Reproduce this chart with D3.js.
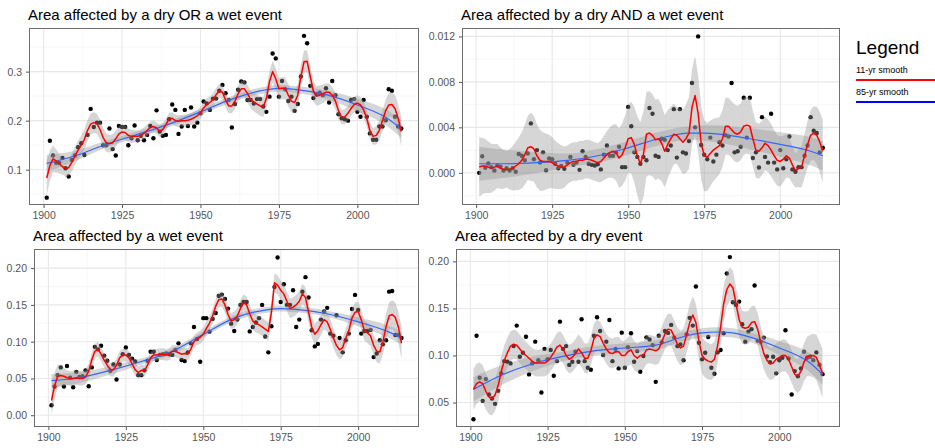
<!DOCTYPE html>
<html><head><meta charset="utf-8">
<script src="https://cdn.jsdelivr.net/npm/d3@7"></script>
<style>body{margin:0;background:#fff} svg{display:block} text{font-family:"Liberation Sans",Arial,sans-serif}</style>
</head><body><svg id="c" width="935" height="448"></svg>
<script>
// ---------------- DATA ----------------
const years = d3.range(1901, 2015);
const xTicks = [1900, 1925, 1950, 1975, 2000];

// Panel 1: dry OR wet
const orPoints = [0.043,0.159,0.129,0.114,0.114,0.124,0.103,0.086,0.12,0.129,
0.146,0.154,0.13,0.171,0.224,0.187,0.196,0.196,0.15,0.15,
0.184,0.142,0.129,0.189,0.187,0.187,0.15,0.164,0.19,0.16,
0.169,0.16,0.171,0.189,0.164,0.221,0.178,0.169,0.171,0.203,
0.233,0.222,0.173,0.188,0.222,0.189,0.227,0.188,0.196,0.215,
0.239,0.235,0.222,0.245,0.245,0.261,0.273,0.256,0.242,0.186,
0.234,0.263,0.28,0.278,0.242,0.242,0.235,0.244,0.244,0.229,
0.218,0.249,0.337,0.327,0.249,0.281,0.264,0.24,0.249,0.22,
0.234,0.29,0.373,0.358,0.271,0.246,0.254,0.257,0.252,0.266,
0.237,0.281,0.252,0.213,0.205,0.203,0.2,0.242,0.244,0.218,
0.208,0.242,0.208,0.174,0.161,0.161,0.188,0.188,0.201,0.264,
0.261,0.208,0.188,0.184];
const orRed = [0.083,0.108,0.122,0.118,0.112,0.106,0.103,0.104,0.115,0.128,
0.14,0.15,0.162,0.18,0.193,0.196,0.194,0.182,0.165,0.155,
0.153,0.155,0.163,0.173,0.177,0.176,0.17,0.168,0.168,0.168,
0.17,0.174,0.18,0.186,0.188,0.185,0.178,0.182,0.192,0.204,
0.205,0.2,0.199,0.2,0.2,0.201,0.203,0.206,0.21,0.216,
0.226,0.233,0.237,0.243,0.253,0.261,0.258,0.242,0.23,0.23,
0.24,0.255,0.265,0.265,0.255,0.243,0.238,0.234,0.23,0.228,
0.245,0.28,0.3,0.285,0.265,0.266,0.266,0.252,0.24,0.237,
0.252,0.29,0.32,0.321,0.29,0.26,0.25,0.252,0.255,0.258,
0.258,0.252,0.24,0.22,0.207,0.208,0.215,0.225,0.233,0.236,
0.232,0.222,0.205,0.18,0.168,0.17,0.18,0.2,0.22,0.232,
0.233,0.225,0.205,0.178];
const orRedSeYears = [1901,1906,1915,1930,1950,1960,1973,1983,1995,2005,2014];
const orRedSe = [0.035,0.016,0.022,0.012,0.012,0.015,0.022,0.023,0.015,0.017,0.03];
const orBlueYears = [1901,1910,1920,1930,1940,1950,1960,1970,1975,1980,1990,2000,2010,2014];
const orBlue = [0.113,0.128,0.152,0.172,0.193,0.218,0.244,0.262,0.266,0.264,0.253,0.232,0.203,0.183];
const orBlueSeYears = [1901,1915,1950,1985,2014];
const orBlueSe = [0.017,0.007,0.006,0.007,0.018];

// Panel 2: dry AND wet
const andPoints = [0.0,0.00146,0.00044,0.00082,0.0005,0.0002,0.00064,0.00055,0.0002,0.0004,
0.0002,0.0004,0.0001,0.00166,0.0015,0.0011,0.0017,0.00435,0.0012,0.002,
0.0009,0.0018,0.00023,0.00126,0.0012,0.0008,0.0004,0.0006,0.00035,0.0009,
0.0014,0.0007,0.0009,0.00026,0.0019,0.0014,0.0008,0.0007,0.00064,0.00076,
0.0003,0.0016,0.0024,0.0015,0.0015,0.0018,0.0023,0.0005,0.0005,0.0058,
0.0041,0.0018,0.0014,0.0008,0.0014,0.0011,0.0057,0.0052,0.0015,0.0014,
0.003,0.0029,0.002,0.0024,0.0056,0.00134,0.0056,0.0018,0.0017,0.0028,
0.0079,0.004,0.012,0.00245,0.0016,0.0012,0.0031,0.001,0.0016,0.0027,
0.0024,0.0033,0.0032,0.0079,0.0018,0.0019,0.0023,0.0066,0.0031,0.0066,
0.0013,0.0018,0.00047,0.0049,0.0014,0.0009,0.0052,0.0009,0.0003,0.002,
0.0004,0.0012,0.0032,0.0003,0.0001,0.0005,0.0005,0.0015,0.0024,0.0049,
0.0037,0.0035,0.0018,0.0022];
const andRed = [0.0005,0.0006,0.0006,0.0005,0.0004,0.0005,0.0006,0.0004,0.0003,0.0003,
0.0003,0.0004,0.0006,0.0008,0.0011,0.0016,0.0022,0.0023,0.0021,0.0015,
0.0011,0.001,0.001,0.001,0.0009,0.0007,0.0006,0.0005,0.0005,0.0007,
0.0009,0.001,0.001,0.0011,0.0011,0.0012,0.0012,0.0011,0.001,0.0009,
0.001,0.0013,0.0016,0.0018,0.0019,0.0018,0.0013,0.0016,0.0022,0.003,
0.0031,0.0025,0.0015,0.0008,0.0016,0.0034,0.0035,0.0033,0.0029,0.003,
0.0026,0.0019,0.0025,0.003,0.0034,0.0033,0.003,0.0027,0.003,0.0035,
0.0058,0.0068,0.0052,0.0026,0.0015,0.0014,0.0017,0.002,0.0022,0.0024,
0.003,0.0041,0.0041,0.0038,0.0035,0.0034,0.0036,0.0041,0.0042,0.0041,
0.003,0.002,0.0019,0.0022,0.0026,0.0024,0.002,0.0015,0.0011,0.001,
0.0012,0.0015,0.0013,0.0007,0.0002,0.0004,0.0005,0.0015,0.0025,0.0033,
0.0035,0.0033,0.0027,0.0019];
const andRedSeYears = [1901,1910,1918,1930,1940,1950,1955,1960,1966,1972,1980,1990,2000,2005,2014];
const andRedSe = [0.0026,0.0016,0.003,0.0017,0.0017,0.003,0.0038,0.0035,0.0025,0.0035,0.0025,0.0025,0.0022,0.0015,0.0028];
const andBlueYears = [1901,1910,1920,1930,1940,1950,1960,1970,1975,1980,1990,2000,2010,2014];
const andBlue = [0.0008,0.0008,0.0009,0.0011,0.0015,0.0022,0.003,0.0035,0.0035,0.0034,0.003,0.0025,0.0019,0.0015];
const andBlueSeYears = [1901,1930,1970,2014];
const andBlueSe = [0.0015,0.0006,0.0006,0.0013];

// Panel 3: wet
const wetPoints = [0.0136,0.039,0.0545,0.065,0.039,0.067,0.051,0.038,0.059,0.052,
0.053,0.061,0.0395,0.065,0.093,0.0895,0.0945,0.081,0.074,0.0605,
0.069,0.0486,0.069,0.083,0.092,0.082,0.077,0.073,0.0545,0.0545,
0.061,0.074,0.0864,0.0864,0.075,0.082,0.083,0.084,0.083,0.082,
0.0886,0.0977,0.075,0.0736,0.0855,0.0977,0.12,0.1036,0.0727,0.132,
0.132,0.1136,0.131,0.139,0.162,0.164,0.158,0.145,0.1245,0.1145,
0.13,0.15,0.154,0.154,0.114,0.12,0.126,0.132,0.15,0.107,
0.0855,0.121,0.1745,0.2145,0.154,0.178,0.15,0.15,0.17,0.12,
0.13,0.168,0.1877,0.16,0.1155,0.0936,0.097,0.13,0.141,0.146,
0.111,0.108,0.136,0.105,0.0855,0.102,0.111,0.1445,0.1636,0.143,
0.111,0.1145,0.1145,0.116,0.079,0.084,0.102,0.0964,0.102,0.168,
0.169,0.109,0.109,0.105];
const wetRed = [0.02,0.04,0.053,0.054,0.053,0.051,0.05,0.05,0.051,0.05,
0.05,0.052,0.06,0.075,0.087,0.09,0.083,0.075,0.068,0.062,
0.062,0.068,0.078,0.082,0.082,0.078,0.07,0.062,0.058,0.061,
0.06,0.068,0.078,0.082,0.082,0.083,0.083,0.082,0.083,0.087,
0.087,0.085,0.083,0.084,0.083,0.09,0.1,0.104,0.106,0.11,
0.118,0.125,0.135,0.148,0.157,0.158,0.15,0.137,0.128,0.13,
0.135,0.145,0.153,0.15,0.138,0.128,0.125,0.123,0.12,0.117,
0.114,0.14,0.18,0.177,0.17,0.165,0.155,0.145,0.147,0.15,
0.155,0.165,0.16,0.14,0.12,0.11,0.115,0.123,0.13,0.127,
0.117,0.105,0.095,0.089,0.092,0.105,0.115,0.132,0.14,0.141,
0.13,0.115,0.112,0.108,0.095,0.087,0.086,0.1,0.12,0.135,
0.137,0.133,0.12,0.098];
const wetRedSeYears = [1901,1906,1915,1930,1945,1955,1965,1975,1985,1995,2005,2014];
const wetRedSe = [0.02,0.01,0.01,0.008,0.008,0.01,0.012,0.013,0.014,0.013,0.014,0.022];
const wetBlueYears = [1901,1910,1920,1930,1940,1950,1960,1970,1975,1980,1990,2000,2010,2014];
const wetBlue = [0.047,0.051,0.061,0.073,0.087,0.11,0.132,0.143,0.145,0.144,0.138,0.127,0.113,0.105];
const wetBlueSeYears = [1901,1930,1960,1990,2014];
const wetBlueSe = [0.009,0.004,0.004,0.004,0.009];

// Panel 4: dry
const dryPoints = [0.0322,0.121,0.0763,0.0518,0.0749,0.0585,0.0543,0.0486,0.0624,0.081,
0.094,0.0934,0.0916,0.11,0.1318,0.0987,0.103,0.12,0.0799,0.0916,
0.1147,0.095,0.0607,0.107,0.096,0.1058,0.0784,0.094,0.136,0.107,
0.11,0.09,0.0934,0.104,0.0934,0.1385,0.094,0.087,0.0848,0.121,
0.1407,0.126,0.1005,0.1147,0.1378,0.094,0.107,0.0863,0.1243,0.087,
0.1087,0.1236,0.0934,0.1047,0.0827,0.0994,0.1193,0.117,0.111,0.072,
0.121,0.114,0.126,0.124,0.1325,0.119,0.11,0.1118,0.095,0.1225,
0.14,0.1318,0.1733,0.1136,0.0959,0.103,0.1197,0.087,0.0806,0.1033,
0.1058,0.1236,0.1872,0.2046,0.1566,0.1538,0.1573,0.1332,0.1147,0.1254,
0.128,0.1744,0.1158,0.1147,0.119,0.099,0.093,0.0987,0.081,0.095,
0.0976,0.1268,0.0969,0.0585,0.0834,0.078,0.0863,0.104,0.0976,0.0987,
0.095,0.1033,0.09,0.0802];
const dryRed = [0.064,0.07,0.072,0.07,0.062,0.056,0.054,0.058,0.068,0.083,
0.095,0.103,0.11,0.112,0.111,0.107,0.103,0.1,0.097,0.094,
0.092,0.092,0.092,0.092,0.094,0.098,0.103,0.109,0.111,0.107,
0.1,0.096,0.098,0.102,0.107,0.103,0.097,0.097,0.105,0.118,
0.122,0.12,0.113,0.107,0.103,0.102,0.104,0.104,0.1,0.1,
0.104,0.106,0.1,0.097,0.1,0.1,0.106,0.107,0.106,0.105,
0.107,0.115,0.123,0.128,0.127,0.12,0.112,0.108,0.11,0.122,
0.135,0.143,0.135,0.115,0.1,0.096,0.094,0.093,0.096,0.11,
0.13,0.155,0.17,0.176,0.172,0.155,0.138,0.13,0.129,0.13,
0.135,0.136,0.128,0.114,0.102,0.095,0.091,0.092,0.096,0.098,
0.1,0.1,0.096,0.088,0.08,0.078,0.083,0.093,0.099,0.1,
0.1,0.098,0.09,0.081];
const dryRedSeYears = [1901,1908,1920,1940,1960,1972,1984,1995,2005,2014];
const dryRedSe = [0.022,0.017,0.014,0.016,0.015,0.02,0.018,0.017,0.017,0.026];
const dryBlueYears = [1901,1910,1920,1930,1940,1950,1960,1970,1975,1980,1985,1990,2000,2010,2014];
const dryBlue = [0.064,0.079,0.091,0.099,0.105,0.108,0.111,0.121,0.124,0.125,0.124,0.12,0.108,0.092,0.08];
const dryBlueSeYears = [1901,1930,1960,1990,2014];
const dryBlueSe = [0.013,0.005,0.005,0.005,0.011];

const titles = ["Area affected by a dry OR a wet event", "Area affected by a dry AND a wet event",
                "Area affected by a wet event", "Area affected by a dry event"];
const legendTitle = "Legend";
const legendLabels = ["11-yr smooth", "85-yr smooth"];

// ---------------- LAYOUT ----------------
const panels = [
  {title: titles[0], box: [29, 28, 419, 205], yDomain: [0.028, 0.389], yTicks: [0.1,0.2,0.3], fmt: d3.format(".1f"),
   pts: orPoints, red: orRed, rsy: orRedSeYears, rse: orRedSe, by: orBlueYears, blue: orBlue, bsy: orBlueSeYears, bse: orBlueSe},
  {title: titles[1], box: [462, 28, 840, 205], yDomain: [-0.00283, 0.01274], yTicks: [0,0.004,0.008,0.012], fmt: d3.format(".3f"),
   pts: andPoints, red: andRed, rsy: andRedSeYears, rse: andRedSe, by: andBlueYears, blue: andBlue, bsy: andBlueSeYears, bse: andBlueSe},
  {title: titles[2], box: [34, 249, 419, 427], yDomain: [-0.016, 0.226], yTicks: [0,0.05,0.1,0.15,0.2], fmt: d3.format(".2f"),
   pts: wetPoints, red: wetRed, rsy: wetRedSeYears, rse: wetRedSe, by: wetBlueYears, blue: wetBlue, bsy: wetBlueSeYears, bse: wetBlueSe},
  {title: titles[3], box: [456, 249, 840, 427], yDomain: [0.024, 0.2132], yTicks: [0.05,0.1,0.15,0.2], fmt: d3.format(".2f"),
   pts: dryPoints, red: dryRed, rsy: dryRedSeYears, rse: dryRedSe, by: dryBlueYears, blue: dryBlue, bsy: dryBlueSeYears, bse: dryBlueSe}
];

const svg = d3.select('#c');
const xDomain = [1895.35, 2019.65];

function drawPanel(p) {
  const [L, T, R, B] = p.box;
  const g = svg.append('g');
  const x = d3.scaleLinear().domain(xDomain).range([L, R]);
  const y = d3.scaleLinear().domain(p.yDomain).range([B, T]);
  const clipId = 'clip' + L + T;
  svg.append('clipPath').attr('id', clipId).append('rect').attr('x', L).attr('y', T).attr('width', R - L).attr('height', B - T);

  g.append('rect').attr('x', L).attr('y', T).attr('width', R - L).attr('height', B - T).attr('fill', '#fff');
  // grid
  const step = p.yTicks[1] - p.yTicks[0];
  const yMinor = d3.range(p.yTicks.length + 1).map(i => p.yTicks[0] - step / 2 + i * step)
    .filter(v => v > p.yDomain[0] && v < p.yDomain[1]);
  const xMinor = [1887.5, 1912.5, 1937.5, 1962.5, 1987.5, 2012.5].filter(v => v > xDomain[0] && v < xDomain[1]);
  const grid = g.append('g');
  yMinor.forEach(v => grid.append('line').attr('x1', L).attr('x2', R).attr('y1', y(v)).attr('y2', y(v)).attr('stroke', '#f2f2f2').attr('stroke-width', 0.6));
  xMinor.forEach(v => grid.append('line').attr('y1', T).attr('y2', B).attr('x1', x(v)).attr('x2', x(v)).attr('stroke', '#f2f2f2').attr('stroke-width', 0.6));
  p.yTicks.forEach(v => grid.append('line').attr('x1', L).attr('x2', R).attr('y1', y(v)).attr('y2', y(v)).attr('stroke', '#e8e8e8').attr('stroke-width', 1.1));
  xTicks.forEach(v => grid.append('line').attr('y1', T).attr('y2', B).attr('x1', x(v)).attr('x2', x(v)).attr('stroke', '#e8e8e8').attr('stroke-width', 1.1));

  const plot = g.append('g').attr('clip-path', `url(#${clipId})`);
  // points
  plot.selectAll('circle').data(years.map((yr, i) => [yr, p.pts[i]])).join('circle')
    .attr('cx', d => x(d[0])).attr('cy', d => y(d[1])).attr('r', 2.2).attr('fill', '#000');

  // red ribbon
  const rse = d3.scaleLinear().domain(p.rsy).range(p.rse).clamp(true);
  const redData = years.map((yr, i) => [yr, p.red[i]]);
  plot.append('path').datum(redData)
    .attr('d', d3.area().x(d => x(d[0])).y0(d => y(d[1] - rse(d[0]))).y1(d => y(d[1] + rse(d[0]))))
    .attr('fill', '#999999').attr('fill-opacity', 0.4);
  // blue ribbon
  const bse = d3.scaleLinear().domain(p.bsy).range(p.bse).clamp(true);
  const blueData = p.by.map((yr, i) => [yr, p.blue[i]]);
  plot.append('path').datum(blueData)
    .attr('d', d3.area().curve(d3.curveMonotoneX).x(d => x(d[0])).y0(d => y(d[1] - bse(d[0]))).y1(d => y(d[1] + bse(d[0]))))
    .attr('fill', '#999999').attr('fill-opacity', 0.4);
  // blue line
  plot.append('path').datum(blueData)
    .attr('d', d3.line().curve(d3.curveMonotoneX).x(d => x(d[0])).y(d => y(d[1])))
    .attr('fill', 'none').attr('stroke', '#3366FF').attr('stroke-width', 1.2);
  // red line
  plot.append('path').datum(redData)
    .attr('d', d3.line().x(d => x(d[0])).y(d => y(d[1])))
    .attr('fill', 'none').attr('stroke', '#ff0000').attr('stroke-width', 1.5).attr('stroke-linejoin', 'round');

  // border
  g.append('rect').attr('x', L + 0.5).attr('y', T + 0.5).attr('width', R - L - 1).attr('height', B - T - 1)
    .attr('fill', 'none').attr('stroke', '#6e6e6e').attr('stroke-width', 1);

  // axes
  const ya = g.append('g').attr('transform', `translate(${L},0)`)
    .call(d3.axisLeft(y).tickValues(p.yTicks).tickFormat(p.fmt).tickSize(3).tickPadding(4));
  const xa = g.append('g').attr('transform', `translate(0,${B})`)
    .call(d3.axisBottom(x).tickValues(xTicks).tickFormat(d3.format('d')).tickSize(3).tickPadding(4));
  [ya, xa].forEach(a => {
    a.select('.domain').remove();
    a.selectAll('line').attr('stroke', '#555');
    a.selectAll('text').attr('fill', '#555').attr('font-size', '10.5px').attr('font-family', '"Liberation Sans",Arial,sans-serif');
  });

  // title
  g.append('text').attr('x', L - 1).attr('y', T - 8.5).text(p.title)
    .attr('font-size', '15px').attr('fill', '#000');
}
panels.forEach(drawPanel);

// legend
const lg = svg.append('g');
lg.append('text').attr('x', 856).attr('y', 54).text(legendTitle).attr('font-size', '19px').attr('fill', '#000');
const legColors = ['#ff0000', '#0000ff'];
legendLabels.forEach((lab, i) => {
  const yy = 73 + i * 22;
  lg.append('text').attr('x', 856).attr('y', yy).text(lab).attr('font-size', '9px').attr('fill', '#000');
  lg.append('line').attr('x1', 856).attr('x2', 935).attr('y1', yy + 7).attr('y2', yy + 7)
    .attr('stroke', legColors[i]).attr('stroke-width', 2);
});
</script></body></html>
